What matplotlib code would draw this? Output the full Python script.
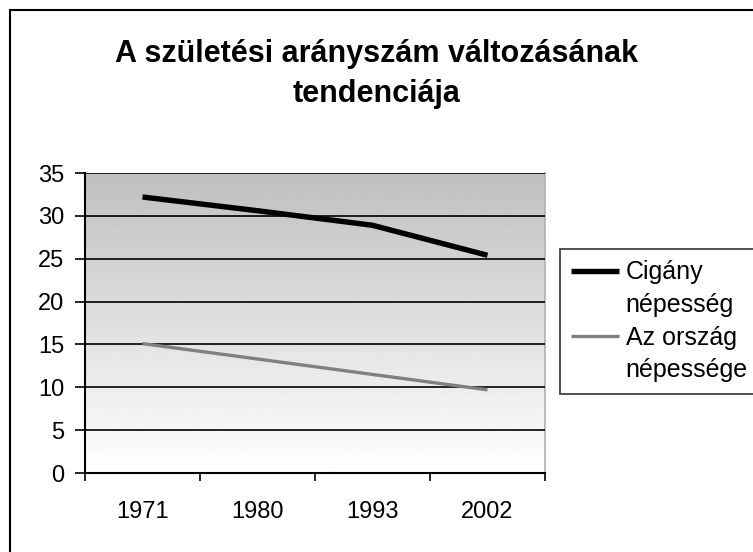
import numpy as np
import matplotlib
matplotlib.use("Agg")
import matplotlib.pyplot as plt
from matplotlib.patches import Rectangle
from matplotlib.lines import Line2D

plt.rcParams['font.family'] = ['Liberation Sans', 'DejaVu Sans']

years = ["1971", "1980", "1993", "2002"]
cigany = [32.2, 30.6, 28.9, 25.4]
orszag = [15.1, 13.3, 11.5, 9.7]
labels = ["Cigány\nnépesség", "Az ország\nnépessége"]
title = "A születési arányszám változásának\ntendenciája"

fig = plt.figure(figsize=(7.53, 5.52), dpi=100)
W, H = 753, 552

# outer chart frame (right/bottom edges are cut off in the original)
fig.add_artist(Rectangle((10/W, -0.1), 1.2, 1 - 10/H + 0.1, transform=fig.transFigure,
                         fill=False, edgecolor="black", linewidth=1.5))

ax = fig.add_axes([85/W, 1 - 473/H, (545-85)/W, (473-173)/H])

x = np.arange(len(years))
ax.set_xlim(-0.5, len(years) - 0.5)
ax.set_ylim(0, 35)

# gradient background: grey at top, white at bottom
grad = np.linspace(0.75, 1.0, 256).reshape(-1, 1)
ax.imshow(grad, extent=(-0.5, len(years) - 0.5, 0, 35), aspect="auto",
          cmap="gray", vmin=0, vmax=1, zorder=0)

ax.set_yticks(np.arange(0, 36, 5))
ax.yaxis.grid(True, color="black", linewidth=1.2, zorder=1)
ax.set_axisbelow(False)

l1, = ax.plot(x, cigany, color="black", linewidth=3.9, zorder=3,
              solid_capstyle="butt")
l2, = ax.plot(x, orszag, color="#808080", linewidth=2.4, zorder=3,
              solid_capstyle="butt")

ax.set_xticks(np.arange(-0.5, len(years), 1.0))
ax.set_xticklabels([])
ax.set_xticks(x, minor=True)
ax.set_xticklabels(years, minor=True)
ax.tick_params(axis="x", which="minor", length=0, pad=20, labelsize=17)
ax.tick_params(axis="x", which="major", length=6, width=1.2, direction="out")
ax.tick_params(axis="y", length=7, width=1.2, labelsize=17, pad=8)

for s in ["left", "bottom"]:
    ax.spines[s].set_linewidth(1.5)
ax.spines["top"].set_visible(False)
ax.spines["right"].set_color("#b0b0b0")
ax.spines["right"].set_linewidth(1.2)

fig.text(0.5, 1 - 74/H, title, ha="center", va="center", fontsize=22,
         fontweight="bold", linespacing=1.45)

# legend: handle sits on the first line of each two-line label
blank = Line2D([], [], color="none")
handles = [l1, blank, l2, blank]
leg_labels = []
for lab in labels:
    leg_labels += lab.split("\n")
leg = fig.legend(handles, leg_labels, loc="upper left",
                 bbox_to_anchor=(560/W, 1 - 249/H),
                 fontsize=18, frameon=True, fancybox=False, edgecolor="black",
                 handlelength=1.9, handletextpad=0.28, borderpad=0.45,
                 labelspacing=0.35, borderaxespad=0)
leg.get_frame().set_linewidth(1.2)

fig.savefig("out.png", dpi=100)
